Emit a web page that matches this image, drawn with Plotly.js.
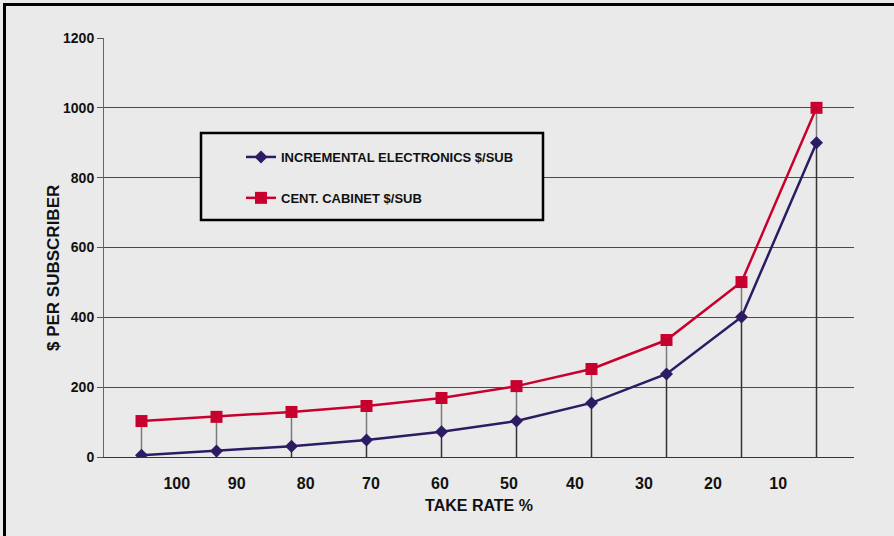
<!DOCTYPE html>
<html>
<head>
<meta charset="utf-8">
<script src="https://cdn.plot.ly/plotly-3.0.1.min.js"></script>
<style>
  html, body { margin: 0; padding: 0; background: #EAEAEA; }
  #chart { width: 894px; height: 536px; }
</style>
</head>
<body>
<div id="chart"></div>
<script>
// Cost per subscriber as take rate falls
const pointIndex = [0, 1, 2, 3, 4, 5, 6, 7, 8, 9];
const incrementalElectronics = [5, 17, 31, 49, 72, 103, 155, 238, 401, 900];
const centCabinet = [103, 115, 129, 146, 169, 203, 252, 335, 501, 1000];
const takeRateLabels = ['100', '90', '80', '70', '60', '50', '40', '30', '20', '10'];
const takeRateLabelPos = [0.47, 1.27, 2.19, 3.06, 3.98, 4.9, 5.78, 6.7, 7.62, 8.49];

const BG = '#EAEAEA';
const PURPLE = '#2D1B63';
const RED = '#C8002E';
const FONT = '"Liberation Sans", Arial, sans-serif';

// drop-line segments: cabinet value down to electronics value, electronics down to zero
const gapToLower = centCabinet.map((v, i) => v - incrementalElectronics[i]);

const traces = [
  {
    x: pointIndex, y: centCabinet, mode: 'markers', marker: { size: 1, opacity: 0 },
    error_y: { type: 'data', symmetric: false, array: pointIndex.map(() => 0),
               arrayminus: gapToLower, width: 0, thickness: 1.5, color: '#7A7A7A' },
    showlegend: false, hoverinfo: 'skip'
  },
  {
    x: pointIndex, y: incrementalElectronics, mode: 'markers', marker: { size: 1, opacity: 0 },
    error_y: { type: 'data', symmetric: false, array: pointIndex.map(() => 0),
               arrayminus: incrementalElectronics, width: 0, thickness: 1.5, color: '#333333' },
    showlegend: false, hoverinfo: 'skip'
  },
  {
    name: 'INCREMENTAL ELECTRONICS $/SUB', legendgroup: 'a',
    x: pointIndex, y: incrementalElectronics, mode: 'lines+markers',
    line: { color: PURPLE, width: 2.5 },
    marker: { symbol: 'diamond', size: 10, color: PURPLE }
  },
  {
    name: 'CENT. CABINET $/SUB', legendgroup: 'b',
    x: pointIndex, y: centCabinet, mode: 'lines+markers',
    line: { color: RED, width: 2.5 },
    marker: { symbol: 'square', size: 12, color: RED }
  }
];

const layout = {
  width: 894, height: 536,
  margin: { l: 104, r: 40, t: 38, b: 79 },
  paper_bgcolor: BG, plot_bgcolor: BG,
  font: { family: FONT, color: '#111', weight: 'bold' },
  showlegend: true,
  legend: {
    x: (241 - 104) / 750, y: (457 - 142) / 419, xanchor: 'left', yanchor: 'top',
    bgcolor: 'rgba(0,0,0,0)', borderwidth: 0,
    font: { family: FONT, size: 13, color: '#111', weight: 'bold' },
    tracegroupgap: 21, traceorder: 'grouped'
  },
  xaxis: {
    range: [-0.5, 9.5], showgrid: false, zeroline: false,
    showline: true, linecolor: '#333', linewidth: 1.2,
    tickmode: 'array', tickvals: takeRateLabelPos, ticktext: takeRateLabels,
    ticks: '', ticklabelstandoff: 12, tickangle: 0,
    tickfont: { family: FONT, size: 16, color: '#111', weight: 'bold' },
    title: { text: 'TAKE RATE %', standoff: 8,
             font: { family: FONT, size: 16, color: '#111', weight: 'bold' } }
  },
  yaxis: {
    range: [0, 1200], dtick: 200, tick0: 0,
    showgrid: true, gridcolor: '#4A4A4A', gridwidth: 1, zeroline: false,
    showline: true, linecolor: '#666', linewidth: 1,
    ticks: 'outside', ticklen: 6, tickcolor: '#555', tickwidth: 1,
    tickfont: { family: FONT, size: 14, color: '#111', weight: 'bold' }
  },
  annotations: [
    // y-axis caption, sitting a little below the plot's vertical centre
    { text: '$ PER SUBSCRIBER', textangle: -90, showarrow: false,
      xref: 'paper', yref: 'paper', x: (53 - 104) / 750, y: (457 - 268) / 419,
      xanchor: 'center', yanchor: 'middle',
      font: { family: FONT, size: 17, color: '#111', weight: 'bold' } }
  ],
  shapes: [
    // legend frame
    { type: 'rect', xref: 'paper', yref: 'paper', layer: 'above',
      x0: (201 - 104) / 750, x1: (543 - 104) / 750,
      y0: (457 - 220) / 419, y1: (457 - 133) / 419,
      line: { color: '#000', width: 2.5 }, fillcolor: BG },
    // page frame, top and left edges
    { type: 'line', xref: 'paper', yref: 'paper',
      x0: (3 - 104) / 750, x1: (894 - 104) / 750,
      y0: (457 - 4.5) / 419, y1: (457 - 4.5) / 419,
      line: { color: '#000', width: 3 } },
    { type: 'line', xref: 'paper', yref: 'paper',
      x0: (4.5 - 104) / 750, x1: (4.5 - 104) / 750,
      y0: (457 - 3) / 419, y1: (457 - 536) / 419,
      line: { color: '#000', width: 3 } }
  ]
};

Plotly.newPlot('chart', traces, layout, { displayModeBar: false, staticPlot: true });
</script>
</body>
</html>
